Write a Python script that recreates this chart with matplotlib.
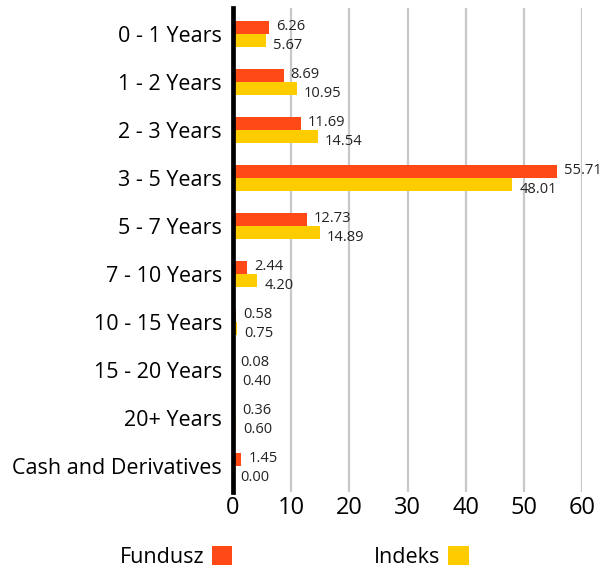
import matplotlib

matplotlib.use("Agg")

import matplotlib.pyplot as plt
import numpy as np
from matplotlib.patches import Patch


# -------------------------------------------------------------------------
# Data
# -------------------------------------------------------------------------

categories = [
    "0 - 1 Years",
    "1 - 2 Years",
    "2 - 3 Years",
    "3 - 5 Years",
    "5 - 7 Years",
    "7 - 10 Years",
    "10 - 15 Years",
    "15 - 20 Years",
    "20+ Years",
    "Cash and Derivatives",
]

fundusz = [6.26, 8.69, 11.69, 55.71, 12.73, 2.44, 0.58, 0.08, 0.36, 1.45]
indeks = [5.67, 10.95, 14.54, 48.01, 14.89, 4.20, 0.75, 0.40, 0.60, 0.00]

x_ticks = [0, 10, 20, 30, 40, 50, 60]

ORANGE = "#FF4A17"
YELLOW = "#FFCC00"

plt.rcParams["font.family"] = ["Open Sans", "DejaVu Sans"]


# -------------------------------------------------------------------------
# Figure
# -------------------------------------------------------------------------

fig = plt.figure(figsize=(6.16, 5.74), dpi=100)
ax = fig.add_axes([233/616, 1-492/574, (582-233)/616, 484/574])

y = np.arange(len(categories))
h = 0.27

ax.barh(y - h/2, fundusz, height=h, color=ORANGE, zorder=3)
ax.barh(y + h/2, indeks, height=h, color=YELLOW, zorder=3)

for yi, v in zip(y, fundusz):
    ax.annotate(
        f"{v:.2f}",
        (v, yi - h/2),
        xytext=(5, 1),
        textcoords="offset points",
        va="center",
        ha="left",
        fontsize=10.5,
        color="#222222",
    )

for yi, v in zip(y, indeks):
    ax.annotate(
        f"{v:.2f}",
        (v, yi + h/2),
        xytext=(5, -3.5),
        textcoords="offset points",
        va="center",
        ha="left",
        fontsize=10.5,
        color="#222222",
    )

ax.set_xlim(0, 60)
ax.set_ylim(len(categories) - 1 + 0.54, -0.54)

ax.set_yticks(y)
ax.set_yticklabels(categories, fontsize=15.5)
ax.set_xticks(x_ticks)
ax.set_xticklabels([str(t) for t in x_ticks], fontsize=17)

ax.tick_params(axis="both", length=0)
ax.tick_params(axis="y", pad=8)
ax.tick_params(axis="x", pad=3)

for t in x_ticks[1:]:
    ax.axvline(t, color="#c8c8c8", linewidth=1.6, zorder=1)
ax.axvline(0, color="black", linewidth=3.4, zorder=4, clip_on=False)

for s in ax.spines.values():
    s.set_visible(False)


# -------------------------------------------------------------------------
# Legend
# -------------------------------------------------------------------------

handles = [
    Patch(facecolor=ORANGE, label="Fundusz"),
    Patch(facecolor=YELLOW, label="Indeks"),
]

fig.legend(
    handles=handles,
    loc="center",
    bbox_to_anchor=(294/616, 1-557/574),
    ncol=2,
    frameon=False,
    markerfirst=False,
    fontsize=15.5,
    handlelength=0.95,
    handleheight=0.95,
    handletextpad=0.35,
    columnspacing=6.6,
)

fig.savefig("out.png", dpi=100)
